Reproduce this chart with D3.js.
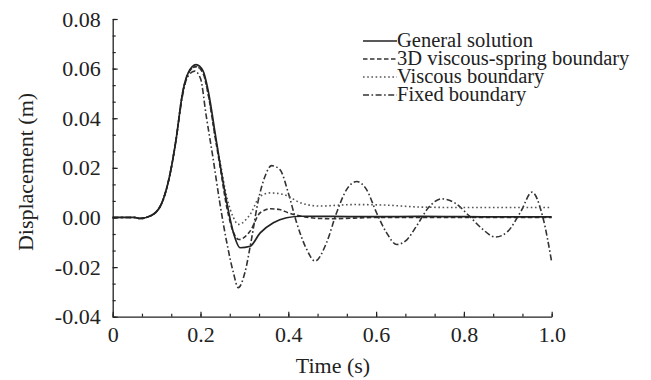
<!DOCTYPE html>
<html><head><meta charset="utf-8">
<script src="https://cdn.jsdelivr.net/npm/d3@7"></script>
<style>body{margin:0;background:#fff}svg text{font-family:"Liberation Serif",Tinos,"Times New Roman",Times,"Nimbus Roman","Nimbus Roman No9 L","DejaVu Serif",serif !important;fill:#222}</style>
</head><body><svg id="c" width="651" height="380"></svg>
<script>
// ---- data ----
const xTicks = [0, 0.2, 0.4, 0.6, 0.8, 1.0];
const yTicks = [-0.04, -0.02, 0.00, 0.02, 0.04, 0.06, 0.08];
const seriesNames = ["General solution", "3D viscous-spring boundary", "Viscous boundary", "Fixed boundary"];

const generalT = [0, 0.05, 0.062, 0.09, 0.115, 0.13, 0.144, 0.159, 0.172, 0.19, 0.206, 0.217, 0.225, 0.232, 0.245, 0.26, 0.275, 0.29, 0.313, 0.336, 0.366, 0.396, 0.43, 0.5, 0.6, 0.7, 0.8, 0.9, 1.0];
const generalV = [0, 0, -0.0004, 0.001, 0.0072, 0.017, 0.031, 0.05, 0.0583, 0.0616, 0.059, 0.0515, 0.0435, 0.0354, 0.021, 0.0059, -0.0062, -0.0122, -0.0116, -0.0062, -0.0021, -0.0001, 0.0005, 0.0004, 0.0003, 0.0004, 0.0003, 0.0002, 0.0002];

const springT = [0, 0.05, 0.062, 0.09, 0.115, 0.13, 0.144, 0.159, 0.172, 0.19, 0.205, 0.216, 0.224, 0.231, 0.245, 0.26, 0.275, 0.288, 0.313, 0.336, 0.36, 0.38, 0.4, 0.43, 0.47, 0.5, 0.6, 0.7, 0.8, 0.9, 1.0];
const springV = [0, 0, -0.0004, 0.001, 0.0072, 0.017, 0.031, 0.05, 0.0581, 0.0608, 0.0585, 0.051, 0.043, 0.035, 0.02, 0.004, -0.006, -0.0089, -0.0055, 0.0019, 0.0035, 0.0032, 0.0019, 0.0005, -0.0004, -0.0005, 0.0, 0.0, 0.0, 0.0, 0.0];

const viscousT = [0, 0.05, 0.062, 0.09, 0.115, 0.13, 0.144, 0.159, 0.172, 0.19, 0.205, 0.216, 0.224, 0.231, 0.245, 0.26, 0.275, 0.286, 0.313, 0.336, 0.358, 0.388, 0.43, 0.47, 0.55, 0.62, 0.7, 0.8, 0.9, 1.0];
const viscousV = [0, 0, -0.0004, 0.001, 0.0072, 0.017, 0.031, 0.05, 0.0581, 0.0608, 0.0585, 0.051, 0.043, 0.035, 0.022, 0.008, 0.0, -0.0028, 0.0012, 0.0086, 0.0099, 0.0093, 0.0058, 0.0046, 0.0052, 0.005, 0.0042, 0.004, 0.004, 0.004];

const fixedT = [0, 0.05, 0.062, 0.09, 0.115, 0.13, 0.144, 0.159, 0.17, 0.187, 0.2, 0.213, 0.229, 0.244, 0.26, 0.275, 0.286, 0.301, 0.316, 0.332, 0.347, 0.362, 0.381, 0.4, 0.419, 0.442, 0.461, 0.487, 0.51, 0.533, 0.556, 0.578, 0.601, 0.624, 0.647, 0.67, 0.692, 0.719, 0.75, 0.78, 0.81, 0.84, 0.872, 0.9, 0.93, 0.955, 0.98, 1.0];
const fixedV = [0, 0, -0.0004, 0.001, 0.0072, 0.017, 0.031, 0.049, 0.0565, 0.059, 0.056, 0.041, 0.0234, 0.0059, -0.0102, -0.0223, -0.0283, -0.0223, -0.0089, 0.0072, 0.0166, 0.0209, 0.0193, 0.0099, -0.0021, -0.0129, -0.0176, -0.0102, 0.0019, 0.0113, 0.0145, 0.0113, 0.0019, -0.0062, -0.0109, -0.009, -0.0035, 0.0039, 0.0075, 0.0058, 0.001, -0.0043, -0.0079, -0.0056, 0.0025, 0.0102, 0.0, -0.018];

// ---- layout ----
const FONT = '"Liberation Serif", Tinos, "Times New Roman", Times, "DejaVu Serif", serif';
const svg = d3.select("#c");
const x = d3.scaleLinear().domain([0, 1.0]).range([112.7, 551.7]);
const y = d3.scaleLinear().domain([-0.04, 0.08]).range([316.7, 19]);

const series = [
  {name: seriesNames[0], t: generalT, v: generalV, dash: null, color: "#222", w: 1.7},
  {name: seriesNames[1], t: springT, v: springV, dash: "4.5,2.5", color: "#333", w: 1.6},
  {name: seriesNames[2], t: viscousT, v: viscousV, dash: "1.6,2.6", color: "#555", w: 1.6},
  {name: seriesNames[3], t: fixedT, v: fixedV, dash: "6,2.5,1.6,2.5", color: "#333", w: 1.6}
];

const line = d3.line().x(d => x(d[0])).y(d => y(d[1])).curve(d3.curveMonotoneX);
[3, 2, 1, 0].forEach(i => {
  const s = series[i];
  svg.append("path").datum(s.t.map((t, k) => [t, s.v[k]]))
    .attr("d", line).attr("fill", "none").attr("stroke", s.color)
    .attr("stroke-width", s.w).attr("stroke-dasharray", s.dash);
});

// ---- axes ----
const fmtX = d => d === 0 ? "0" : d.toFixed(1);
const fmtY = d => d.toFixed(2).replace("\u2212", "-");
const minorX = d3.range(0, 16).map(i => i / 15);
const minorY = d3.range(0, 19).map(i => -0.04 + i * 0.02 / 3);

const gx = svg.append("g").attr("transform", "translate(0,316.7)")
  .call(d3.axisBottom(x).tickValues(xTicks).tickFormat(fmtX).tickSizeInner(-5).tickSizeOuter(0).tickPadding(10));
const gxm = svg.append("g").attr("transform", "translate(0,316.7)")
  .call(d3.axisBottom(x).tickValues(minorX).tickFormat("").tickSizeInner(-3).tickSizeOuter(0));
const gy = svg.append("g").attr("transform", "translate(112.7,0)")
  .call(d3.axisLeft(y).tickValues(yTicks).tickFormat(fmtY).tickSizeInner(-5).tickSizeOuter(0).tickPadding(12));
const gym = svg.append("g").attr("transform", "translate(112.7,0)")
  .call(d3.axisLeft(y).tickValues(minorY).tickFormat("").tickSizeInner(-3).tickSizeOuter(0));

[gx, gxm, gy, gym].forEach(g => {
  g.attr("font-family", FONT);
  g.selectAll("path").attr("stroke", "#222").attr("stroke-width", 1.3);
  g.selectAll("line").attr("stroke", "#222").attr("stroke-width", 1.2);
});
gxm.select("path").remove(); gym.select("path").remove();
[gx, gy].forEach(g => g.selectAll("text").attr("font-size", 22).attr("font-family", FONT).attr("fill", "#222"));

svg.append("text").attr("x", 333).attr("y", 373).attr("text-anchor", "middle")
  .attr("font-family", FONT).attr("font-size", 22).text("Time (s)");
svg.append("text").attr("transform", "translate(33,172) rotate(-90)").attr("text-anchor", "middle")
  .attr("font-family", FONT).attr("font-size", 22).text("Displacement (m)");

// ---- legend ----
const lg = svg.append("g");
series.forEach((s, i) => {
  const cy = 41 + i * 18;
  lg.append("line").attr("x1", 363).attr("x2", 397).attr("y1", cy).attr("y2", cy)
    .attr("stroke", s.color).attr("stroke-width", s.w).attr("stroke-dasharray", s.dash);
  lg.append("text").attr("x", 397).attr("y", cy + 6).attr("font-family", FONT).attr("font-size", 20.5).text(s.name);
});
</script></body></html>
